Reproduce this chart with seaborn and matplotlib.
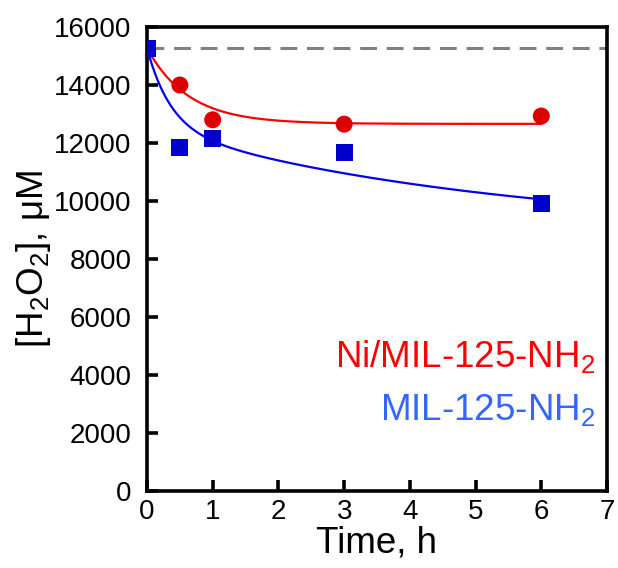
import numpy as np
import pandas as pd
import matplotlib
matplotlib.use("Agg")
import matplotlib.pyplot as plt
import seaborn as sns

# Measured H2O2 concentration over time
time_h = [0, 0.5, 1, 3, 6]
ni_mil = [15270, 14000, 12800, 12650, 12930]
mil = [15270, 11850, 12150, 11680, 9930]
initial_conc = 15270

# Fitted decay models: plateau + amplitude * exp(-rate * t) terms
ni_fit = {"plateau": 12660, "amps": [2610], "rates": [1.58]}
mil_fit = {"plateau": 8890, "amps": [2729, 3651], "rates": [2.8, 0.19]}

x_ticks = [0, 1, 2, 3, 4, 5, 6, 7]
y_ticks = [0, 2000, 4000, 6000, 8000, 10000, 12000, 14000, 16000]

sns.set_theme(style="white")
plt.rcParams["font.family"] = ["Liberation Sans", "DejaVu Sans"]
plt.rcParams["mathtext.fontset"] = "custom"
plt.rcParams["mathtext.rm"] = "Liberation Sans"
plt.rcParams["mathtext.it"] = "Liberation Sans:italic"


def decay(params, t):
    t = np.asarray(t, float)
    out = np.full_like(t, params["plateau"], dtype=float)
    for a, k in zip(params["amps"], params["rates"]):
        out = out + a * np.exp(-k * t)
    return out


t_fine = np.linspace(0, 6, 300)
fit_df = pd.concat([
    pd.DataFrame({"t": t_fine, "c": decay(ni_fit, t_fine), "s": "Ni"}),
    pd.DataFrame({"t": t_fine, "c": decay(mil_fit, t_fine), "s": "MIL"}),
])
pts_ni = pd.DataFrame({"t": time_h, "c": ni_mil})
pts_mil = pd.DataFrame({"t": time_h, "c": mil})

fig = plt.figure(figsize=(6.18, 5.68), dpi=100)
ax = fig.add_axes([147 / 618, 1 - 491 / 568, 460 / 618, 464 / 568])

ax.axhline(initial_conc, color="#808080", lw=2.2, ls=(0, (5.5, 3.2)), zorder=1)

sns.lineplot(data=fit_df, x="t", y="c", hue="s", palette={"Ni": "#FF0000", "MIL": "#0000EE"},
             lw=1.6, legend=False, ax=ax, zorder=2)
sns.scatterplot(data=pts_ni, x="t", y="c", color="#DD0000", marker="o", s=150,
                edgecolor="none", ax=ax, zorder=3)
sns.scatterplot(data=pts_mil, x="t", y="c", color="#0000CC", marker="s", s=150,
                edgecolor="none", ax=ax, zorder=4)

ax.set_xlim(0, 7)
ax.set_ylim(0, 16000)
ax.set_xticks(x_ticks)
ax.set_yticks(y_ticks)
ax.set_xticklabels([str(v) for v in x_ticks], fontsize=20)
ax.set_yticklabels([str(v) for v in y_ticks], fontsize=20)

for side in ["left", "bottom", "right", "top"]:
    ax.spines[side].set_visible(True)
    ax.spines[side].set_color("black")
    ax.spines[side].set_linewidth(2.6)

ax.tick_params(axis="both", which="major", direction="in", length=8, width=2.6,
               colors="black", top=False, right=False, left=True, bottom=True)
ax.tick_params(axis="y", pad=11)
ax.tick_params(axis="x", pad=6)

ax.set_xlabel("Time, h", fontsize=26.5, color="black", labelpad=0)
ax.set_ylabel(r"[H$_2$O$_2$], μM", fontsize=26.5, color="black", labelpad=1)

ax.text(0.974, 0.267, r"Ni/MIL-125-NH$_2$", transform=ax.transAxes, ha="right",
        va="baseline", fontsize=26.5, color="#FF0000")
ax.text(0.974, 0.153, r"MIL-125-NH$_2$", transform=ax.transAxes, ha="right",
        va="baseline", fontsize=26.5, color="#3366FF")

fig.savefig("out.png", dpi=100)
